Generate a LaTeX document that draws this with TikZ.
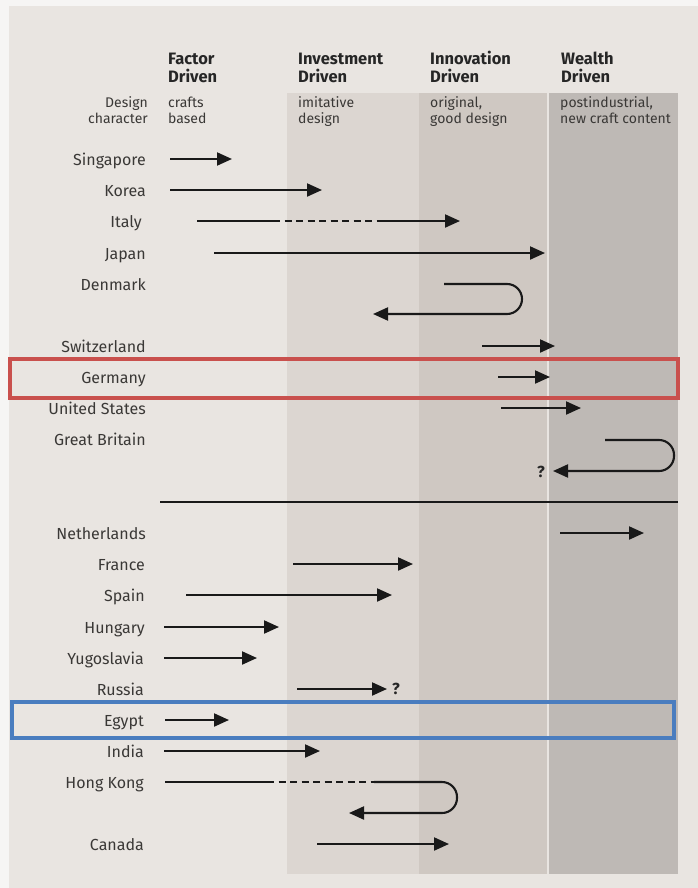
\documentclass[tikz,border=0pt]{standalone}
\usepackage{fontspec}
\setmainfont{Fira Sans}
\usetikzlibrary{arrows.meta}

\definecolor{paper}{HTML}{E9E5E1}
\definecolor{margin}{HTML}{F6F5F4}
\definecolor{bandA}{HTML}{DCD6D1}
\definecolor{bandB}{HTML}{CFC8C2}
\definecolor{bandC}{HTML}{BEB9B5}
\definecolor{ink}{HTML}{3A3836}
\definecolor{frameRed}{HTML}{C9504D}
\definecolor{frameBlue}{HTML}{4A7DBF}

\tikzset{
  rowlabel/.style={anchor=base east, inner sep=0pt, text=ink,
                   font=\fontsize{16}{18}\selectfont},
  colhead/.style={anchor=base west, inner sep=0pt, text=black!85,
                  align=left, font=\bfseries\fontsize{16.5}{18.5}\selectfont},
  coltext/.style={anchor=base west, inner sep=0pt, text=ink,
                  align=left, font=\fontsize{14}{17}\selectfont},
  flow/.style={line width=2.1pt, black!90,
               -{Triangle[length=15pt,width=13pt]}},
  plainline/.style={line width=2.1pt, black!90},
  dashline/.style={line width=2.1pt, black!90, dash pattern=on 7pt off 4.5pt},
  loop/.style={flow, rounded corners=15pt},
  query/.style={inner sep=0pt, text=black!85, font=\bfseries\fontsize{16}{18}\selectfont},
  hilite/.style={line width=4pt}
}

\begin{document}
\begin{tikzpicture}[x=1pt,y=-1pt]
  % page and paper
  \fill[margin] (0,0) rectangle (698,888);
  \fill[paper] (9,6) rectangle (698,888);
  \useasboundingbox (0,0) rectangle (698,888);

  % stage bands
  \fill[bandA] (287,93) rectangle (419,874);
  \fill[bandB] (419,93) rectangle (547,874);
  \fill[bandC] (549,93) rectangle (678,874);

  % column heads (anchored on the baseline of the last line)
  \node[colhead] (hFactor) at (168,83) {Factor\\Driven};
  \node[colhead] (hInvest) at (298,83) {Investment\\Driven};
  \node[colhead] (hInnov)  at (430,83) {Innovation\\Driven};
  \node[colhead] (hWealth) at (561,83) {Wealth\\Driven};

  \node[coltext, anchor=base east, align=right] (dc) at (148,124) {Design\\character};
  \node[coltext] (cFactor) at (168,124) {crafts\\based};
  \node[coltext] (cInvest) at (298,124) {imitative\\design};
  \node[coltext] (cInnov)  at (430,124) {original,\\good design};
  \node[coltext] (cWealth) at (560,124) {postindustrial,\\new craft content};

  % upper group
  \node[rowlabel] (sg) at (146,165) {Singapore};
  \coordinate (sgS) at (170,159); \coordinate (sgE) at (232,159);
  \draw[flow] (sgS) -- (sgE);

  \node[rowlabel] (kr) at (146,196) {Korea};
  \coordinate (krS) at (170,190); \coordinate (krE) at (322,190);
  \draw[flow] (krS) -- (krE);

  \node[rowlabel] (it) at (142,227) {Italy};
  \coordinate (itS) at (197,221); \coordinate (itA) at (273,221);
  \coordinate (itB) at (379,221); \coordinate (itE) at (460,221);
  \draw[plainline] (itS) -- (itA);
  \draw[dashline] (itA) -- (itB);
  \draw[flow] (itB) -- (itE);

  \node[rowlabel] (jp) at (146,259) {Japan};
  \coordinate (jpS) at (214,253); \coordinate (jpE) at (545,253);
  \draw[flow] (jpS) -- (jpE);

  \node[rowlabel] (dk) at (146,290) {Denmark};
  \coordinate (dkS) at (444,284); \coordinate (dkR1) at (522,284);
  \coordinate (dkR2) at (522,314); \coordinate (dkE) at (373,314);
  \draw[loop] (dkS) -- (dkR1) -- (dkR2) -- (dkE);

  \node[rowlabel] (ch) at (146,352) {Switzerland};
  \coordinate (chS) at (482,346); \coordinate (chE) at (555,346);
  \draw[flow] (chS) -- (chE);

  \node[rowlabel] (de) at (146,383) {Germany};
  \coordinate (deS) at (498,377); \coordinate (deE) at (550,377);
  \draw[flow] (deS) -- (deE);

  \node[rowlabel] (us) at (146,414) {United States};
  \coordinate (usS) at (501,408); \coordinate (usE) at (581,408);
  \draw[flow] (usS) -- (usE);

  \node[rowlabel] (gb) at (146,445) {Great Britain};
  \coordinate (gbS) at (605,440); \coordinate (gbR1) at (674,440);
  \coordinate (gbR2) at (674,471); \coordinate (gbE) at (553,471);
  \draw[loop] (gbS) -- (gbR1) -- (gbR2) -- (gbE);
  \node[query] (gbQ) at (541,472) {?};

  % divider between the two groups
  \coordinate (divL) at (160,502); \coordinate (divR) at (678,502);
  \draw[line width=1.1pt, black!90] (divL) -- (divR);

  % lower group
  \node[rowlabel] (nl) at (146,539) {Netherlands};
  \coordinate (nlS) at (560,533); \coordinate (nlE) at (644,533);
  \draw[flow] (nlS) -- (nlE);

  \node[rowlabel] (fr) at (145,570) {France};
  \coordinate (frS) at (293,564); \coordinate (frE) at (413,564);
  \draw[flow] (frS) -- (frE);

  \node[rowlabel] (es) at (145,601) {Spain};
  \coordinate (esS) at (186,595); \coordinate (esE) at (392,595);
  \draw[flow] (esS) -- (esE);

  \node[rowlabel] (hu) at (145,633) {Hungary};
  \coordinate (huS) at (164,627); \coordinate (huE) at (279,627);
  \draw[flow] (huS) -- (huE);

  \node[rowlabel] (yu) at (144,664) {Yugoslavia};
  \coordinate (yuS) at (164,658); \coordinate (yuE) at (257,658);
  \draw[flow] (yuS) -- (yuE);

  \node[rowlabel] (ru) at (144,695) {Russia};
  \coordinate (ruS) at (297,689); \coordinate (ruE) at (387,689);
  \draw[flow] (ruS) -- (ruE);
  \node[query] (ruQ) at (396,689) {?};

  \node[rowlabel] (eg) at (144,726) {Egypt};
  \coordinate (egS) at (165,720); \coordinate (egE) at (229,720);
  \draw[flow] (egS) -- (egE);

  \node[rowlabel] (in) at (144,757) {India};
  \coordinate (inS) at (164,751); \coordinate (inE) at (320,751);
  \draw[flow] (inS) -- (inE);

  \node[rowlabel] (hk) at (144,788) {Hong Kong};
  \coordinate (hkS) at (165,782); \coordinate (hkA) at (267,782);
  \coordinate (hkB) at (374,782); \coordinate (hkR1) at (457,782);
  \coordinate (hkR2) at (457,813); \coordinate (hkE) at (349,813);
  \draw[plainline] (hkS) -- (hkA);
  \draw[dashline] (hkA) -- (hkB);
  \draw[loop] (hkB) -- (hkR1) -- (hkR2) -- (hkE);

  \node[rowlabel] (ca) at (144,850) {Canada};
  \coordinate (caS) at (317,844); \coordinate (caE) at (449,844);
  \draw[flow] (caS) -- (caE);

  % highlight frames
  \draw[hilite, frameRed]  (10,359) rectangle (678,398);
  \draw[hilite, frameBlue] (12,702) rectangle (674,738);
\end{tikzpicture}
\end{document}
